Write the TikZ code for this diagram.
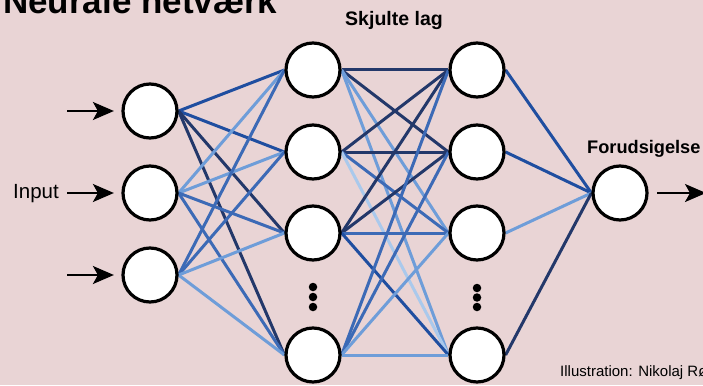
\documentclass[tikz,border=0pt]{standalone}
\usepackage{fontspec}
\setmainfont{Liberation Sans}
\usetikzlibrary{arrows.meta}
\definecolor{bgpink}{RGB}{233,212,213}
\definecolor{nnavy}{RGB}{35,56,106}
\definecolor{ndark}{RGB}{31,78,160}
\definecolor{nmid}{RGB}{60,106,182}
\definecolor{nlight}{RGB}{110,157,217}
\definecolor{npale}{RGB}{170,201,236}
\pgfdeclarelayer{bg}
\pgfdeclarelayer{links}
\pgfsetlayers{bg,links,main}

\begin{document}
\begin{tikzpicture}[
  x=1pt, y=-1pt,
  neuron/.style={circle, draw, line width=3.2pt, fill=white, minimum size=54pt, inner sep=0pt},
  link/.style={line width=3pt},
  feed/.style={line width=2pt, -{Stealth[length=21pt, width=18pt, inset=5pt]}},
  dot/.style={circle, fill, inner sep=0pt, minimum size=8.5pt}
]
\useasboundingbox (0,0) rectangle (703,385);
\begin{pgfonlayer}{bg}
\fill[bgpink] (0,0) rectangle (703,385);
\end{pgfonlayer}

\node[anchor=base west, inner sep=0pt, font=\bfseries\fontsize{35}{40}\selectfont] (title) at (3,14) {Neurale netværk};
\node[anchor=base, inner sep=0pt, font=\bfseries\fontsize{19.5}{24}\selectfont] (lag) at (394,26) {Skjulte lag};
\node[anchor=base west, inner sep=0pt, font=\bfseries\fontsize{18.2}{22}\selectfont] (pred) at (587,153) {Forudsigelse};
\node[anchor=base west, inner sep=0pt, font=\fontsize{20.5}{24}\selectfont] (input) at (13,198) {Input};
\node[anchor=base west, inner sep=0pt, font=\fontsize{15}{18}\selectfont] (credit) at (560,376) {Illustration: Nikolaj Rø};

\node[neuron] (i1) at (150,111) {};
\node[neuron] (i2) at (150,193) {};
\node[neuron] (i3) at (150,275) {};

\node[neuron] (h1) at (313,70) {};
\node[neuron] (h2) at (313,152) {};
\node[neuron] (h3) at (313,233) {};
\node[neuron] (h4) at (313,355) {};

\node[neuron] (k1) at (477,70) {};
\node[neuron] (k2) at (477,152) {};
\node[neuron] (k3) at (477,233) {};
\node[neuron] (k4) at (477,355) {};

\node[neuron] (o) at (620,193) {};

\node[dot] (hd1) at (313,287) {};
\node[dot] (hd2) at (313,297) {};
\node[dot] (hd3) at (313,307) {};
\node[dot] (kd1) at (477,288) {};
\node[dot] (kd2) at (477,297.5) {};
\node[dot] (kd3) at (477,307) {};

\begin{pgfonlayer}{links}
\draw[link] (i1.east) edge[ndark] (h1.west) edge[ndark] (h2.west) edge[nnavy] (h3.west) edge[nnavy] (h4.west);
\draw[link] (i2.east) edge[nlight] (h1.west) edge[nlight] (h2.west) edge[nmid] (h3.west) edge[nmid] (h4.west);
\draw[link] (i3.east) edge[nmid] (h1.west) edge[nmid] (h2.west) edge[nlight] (h3.west) edge[nlight] (h4.west);
\draw[link] (h1.east) edge[nnavy] (k1.west) edge[nnavy] (k2.west) edge[nlight] (k3.west) edge[nlight] (k4.west);
\draw[link] (h2.east) edge[nnavy] (k1.west) edge[nnavy] (k2.west) edge[nmid] (k3.west) edge[npale] (k4.west);
\draw[link] (h3.east) edge[nnavy] (k1.west) edge[nnavy] (k2.west) edge[nmid] (k3.west) edge[ndark] (k4.west);
\draw[link] (h4.east) edge[nmid] (k1.west) edge[nmid] (k2.west) edge[nlight] (k3.west) edge[nlight] (k4.west);
\draw[link] (o.west) edge[ndark] (k1.east) edge[ndark] (k2.east) edge[nlight] (k3.east) edge[nnavy] (k4.east);
\end{pgfonlayer}

\coordinate (in1) at (67,111);
\coordinate (in2) at (67,193);
\coordinate (in3) at (67,275);
\coordinate (out) at (706,193);
\draw[feed, shorten >=7.5pt] (in1) -- (i1);
\draw[feed, shorten >=7.5pt] (in2) -- (i2);
\draw[feed, shorten >=7.5pt] (in3) -- (i3);
\draw[feed, shorten <=8.5pt] (o) -- (out);
\end{tikzpicture}
\end{document}
